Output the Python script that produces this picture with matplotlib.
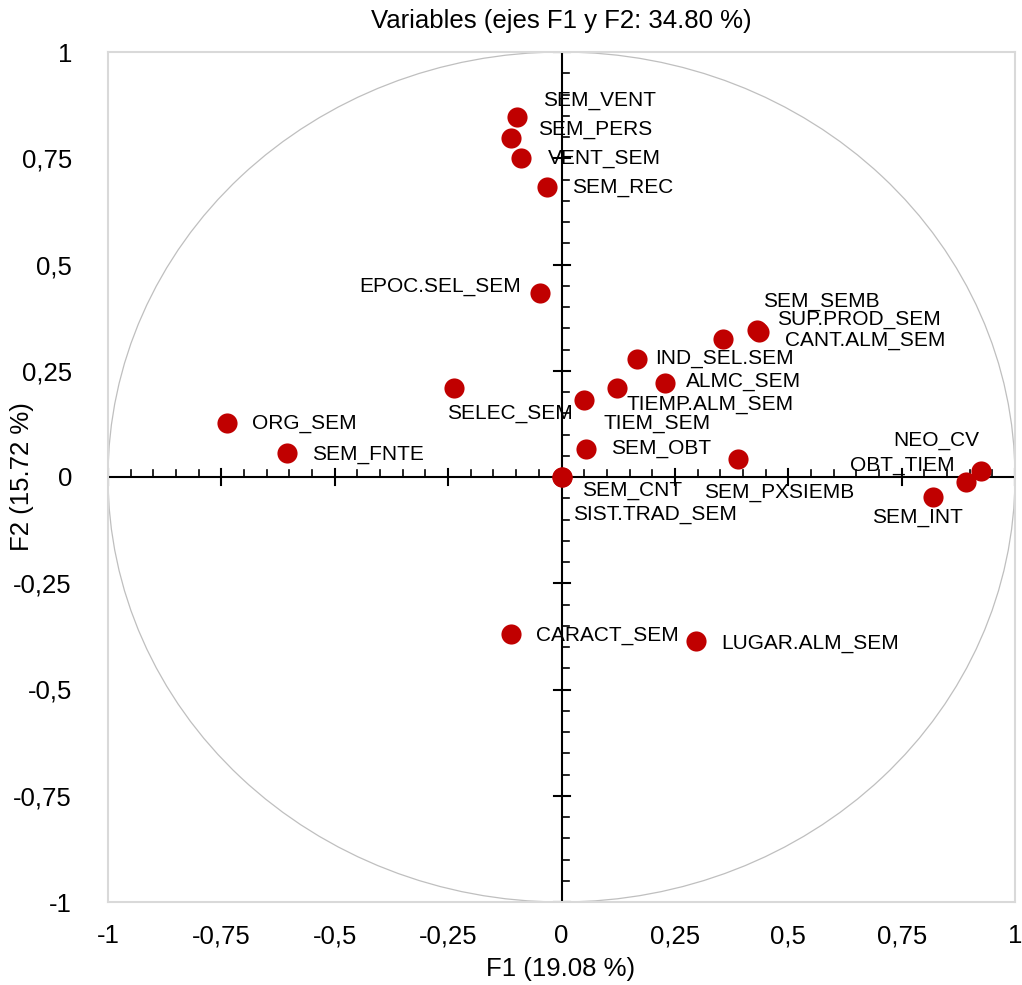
import numpy as np
import matplotlib.pyplot as plt
from matplotlib.patches import Circle

plt.rcParams['font.family'] = ['Liberation Sans', 'DejaVu Sans']

# variable coordinates on the first two factors
names = ["SEM_VENT", "SEM_PERS", "VENT_SEM", "SEM_REC", "EPOC.SEL_SEM",
         "SEM_SEMB", "SUP.PROD_SEM", "CANT.ALM_SEM", "IND_SEL.SEM", "ALMC_SEM",
         "TIEMP.ALM_SEM", "TIEM_SEM", "SELEC_SEM", "ORG_SEM", "SEM_FNTE",
         "SEM_OBT", "SEM_CNT", "SIST.TRAD_SEM", "SEM_PXSIEMB", "NEO_CV",
         "OBT_TIEM", "SEM_INT", "CARACT_SEM", "LUGAR.ALM_SEM"]
f1 = [-0.098, -0.111, -0.089, -0.031, -0.047,
      0.430, 0.435, 0.356, 0.166, 0.228,
      0.122, 0.050, -0.237, -0.738, -0.605,
      0.055, 0.000, 0.001, 0.390, 0.924,
      0.891, 0.819, -0.111, 0.297]
f2 = [0.846, 0.797, 0.750, 0.682, 0.433,
      0.345, 0.341, 0.325, 0.278, 0.221,
      0.210, 0.181, 0.209, 0.127, 0.056,
      0.066, 0.000, -0.001, 0.042, 0.015,
      -0.012, -0.047, -0.369, -0.385]

# label offsets (points) from each marker: left edge of text, vertical centre
offsets = {
    "SEM_VENT": (19, 12), "SEM_PERS": (19, 6), "VENT_SEM": (19, 0),
    "SEM_REC": (18, 0), "EPOC.SEL_SEM": (-14, 5), "SEM_SEMB": (5, 21),
    "SUP.PROD_SEM": (13, 9), "CANT.ALM_SEM": (45, -1), "IND_SEL.SEM": (13, 0),
    "ALMC_SEM": (15, 1), "TIEMP.ALM_SEM": (7, -12), "TIEM_SEM": (14, -17),
    "SELEC_SEM": (-5, -18), "ORG_SEM": (18, 0), "SEM_FNTE": (18, -1),
    "SEM_OBT": (18, 0), "SEM_CNT": (15, -10), "SIST.TRAD_SEM": (8, -27),
    "SEM_PXSIEMB": (-25, -24), "NEO_CV": (-63, 22), "OBT_TIEM": (-83, 12),
    "SEM_INT": (-44, -15), "CARACT_SEM": (18, -1), "LUGAR.ALM_SEM": (18, -2),
}

ticks = [-1, -0.75, -0.5, -0.25, 0, 0.25, 0.5, 0.75, 1]
tick_labels = ["-1", "-0,75", "-0,5", "-0,25", "0", "0,25", "0,5", "0,75", "1"]

fig = plt.figure(figsize=(10.22, 9.85), dpi=100)
ax = fig.add_axes([108 / 1022, 83 / 985, 907 / 1022, 850 / 985])
ax.set_xlim(-1, 1)
ax.set_ylim(-1, 1)

for s in ax.spines.values():
    s.set_color("#D9D9D9")
    s.set_linewidth(1.5)

ax.set_xticks(ticks)
ax.set_xticklabels(tick_labels)
ax.set_yticks(ticks)
ax.set_yticklabels(tick_labels)
ax.tick_params(length=0, labelsize=18.5, colors="black")
ax.tick_params(axis="x", pad=16)
ax.tick_params(axis="y", pad=26)

# correlation circle
ax.add_patch(Circle((0, 0), 1, fill=False, edgecolor="#BFBFBF", linewidth=0.9, zorder=1))

# central axes with ticks
ax.axhline(0, color="black", linewidth=1.5, zorder=2)
ax.axvline(0, color="black", linewidth=1.5, zorder=2)
hx = 8 / 425.0
hy = 8 / 453.5
minor = np.round(np.arange(-1, 1.0001, 0.05), 2)
for v in minor:
    if abs(v) < 1e-9:
        continue
    if abs(v * 4 - round(v * 4)) < 1e-9:
        ax.plot([v, v], [-hx, hx], color="black", lw=1.5, zorder=2)
        ax.plot([-hy, hy], [v, v], color="black", lw=1.5, zorder=2)
    else:
        ax.plot([v, v], [0, hx * 0.9], color="black", lw=1.2, zorder=2)
        ax.plot([0, hy * 0.9], [v, v], color="black", lw=1.2, zorder=2)

ax.plot(f1, f2, "o", color="#C00000", markersize=14.5, markeredgewidth=0, zorder=3)

for n, x, y in zip(names, f1, f2):
    dx, dy = offsets[n]
    ha = "right" if n == "EPOC.SEL_SEM" else "left"
    ax.annotate(n, (x, y), xytext=(dx, dy), textcoords="offset points",
                ha=ha, va="center", fontsize=15, zorder=4)

fig.text(561 / 1022, 1 - 21 / 985, "Variables (ejes F1 y F2: 34.80 %)",
         fontsize=18.5, ha="center", va="center")
fig.text(561 / 1022, 1 - 969 / 985, "F1 (19.08 %)",
         fontsize=18.5, ha="center", va="center")
fig.text(22 / 1022, 1 - 477 / 985, "F2 (15.72 %)",
         fontsize=18.5, ha="center", va="center", rotation=90)

fig.savefig("out.png", dpi=100)
